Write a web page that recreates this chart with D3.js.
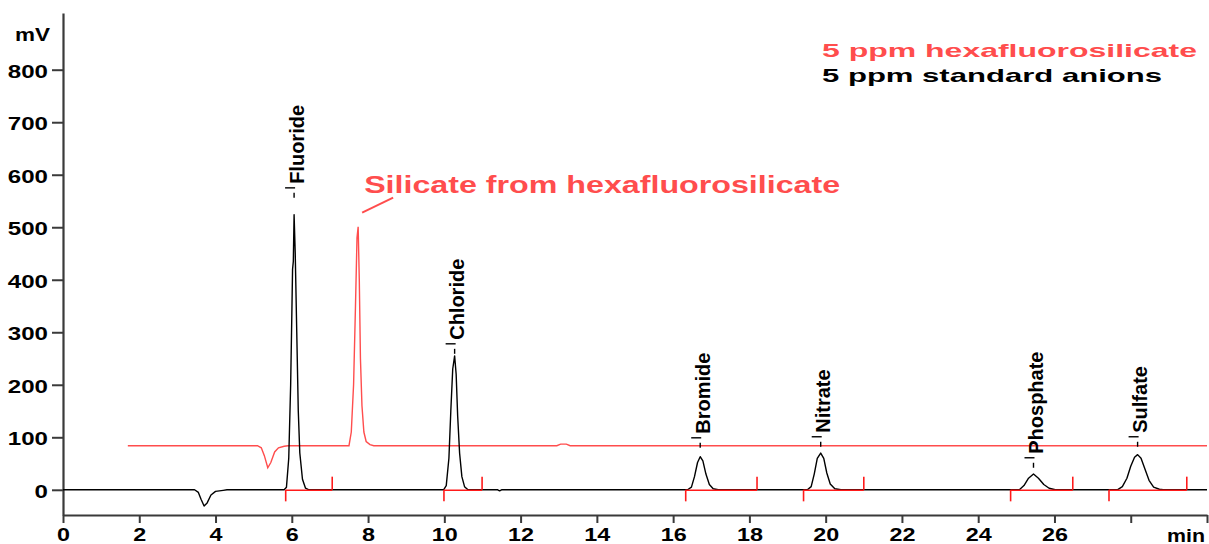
<!DOCTYPE html>
<html><head><meta charset="utf-8">
<script src="https://cdn.jsdelivr.net/npm/d3@7"></script>
<style>body{margin:0;background:#fff}svg{display:block}</style>
</head><body>
<svg id="c" width="1209" height="544"></svg>
<script>
// ---------- data ----------
const xTicks = [0,2,4,6,8,10,12,14,16,18,20,22,24,26,28,30];
const xTickLabels = ["0","2","4","6","8","10","12","14","16","18","20","22","24","26","",""];
const yTicks = [0,100,200,300,400,500,600,700,800];
const yTickLabels = ["0","100","200","300","400","500","600","700","800"];

// black trace: 5 ppm standard anions  [min, mV]
const standardTrace = [
  [0,0],[3.45,0],[3.55,-5],[3.62,-18],[3.70,-31],[3.78,-25],[3.88,-10],[4.0,-3],[4.2,-1],[4.3,0],
  [5.80,0],[5.86,5],[5.92,60],[5.97,200],[6.00,330],[6.02,420],[6.04,435],[6.06,524],[6.09,450],
  [6.13,300],[6.17,150],[6.21,70],[6.28,20],[6.36,3],[6.45,0],
  [9.98,0],[10.05,8],[10.12,60],[10.17,150],[10.22,230],[10.27,255],[10.31,220],[10.35,140],
  [10.40,70],[10.46,25],[10.53,6],[10.62,0],
  [11.40,0],[11.45,-2],[11.50,0],
  [16.38,0],[16.48,5],[16.56,25],[16.64,52],[16.71,63],[16.78,55],[16.86,30],[16.95,10],[17.05,2],[17.18,0],
  [19.52,0],[19.62,6],[19.70,30],[19.78,60],[19.87,70],[19.95,60],[20.03,32],[20.12,11],[20.24,2],[20.40,0],
  [25.08,0],[25.20,8],[25.32,22],[25.45,30],[25.58,22],[25.72,10],[25.86,3],[26.02,0],
  [27.65,0],[27.78,6],[27.90,22],[28.00,45],[28.10,62],[28.18,67],[28.27,60],[28.37,40],[28.48,18],
  [28.60,5],[28.75,1],[28.85,0],[30,0]
];

// red trace: 5 ppm hexafluorosilicate  [min, mV]
const silicateTrace = [
  [1.7,84],[5.10,84],[5.20,80],[5.28,65],[5.37,42],[5.45,52],[5.55,72],[5.65,80],[5.80,83],[5.90,84],
  [7.50,84],[7.56,110],[7.62,200],[7.67,350],[7.71,480],[7.74,501],[7.77,400],[7.80,250],[7.84,160],
  [7.89,110],[7.95,92],[8.05,86],[8.15,84],
  [12.95,84],[13.05,87],[13.20,87],[13.30,84],[30,84]
];

// peak annotations
const peakNames = ["Fluoride","Chloride","Bromide","Nitrate","Phosphate","Sulfate"];
const peakTimes = [6.06,10.27,16.71,19.87,25.45,28.18];
const labelMv   = [575,278,99,101,61,101];

// integration limits (min)
const intStart = [5.84,9.99,16.33,19.42,24.85,27.43];
const intEnd   = [7.06,10.99,18.20,21.00,26.48,29.47];

const legendLabels = ["5 ppm hexafluorosilicate","5 ppm standard anions"];
const silicateNote = "Silicate from hexafluorosilicate";
const silicatePeak = [7.74,501];

// ---------- drawing ----------
const FONT = "'Liberation Sans', Arial, Helvetica, sans-serif";
const RED_TRACE = "#ff4d4d", RED_MARK = "#ff1a1a", AXIS = "#3a3a3a";
const svg = d3.select("#c");
const x = d3.scaleLinear().domain([0,30]).range([63,1207]);
const y = d3.scaleLinear().domain([-48,908]).range([515,13]);

// axes
const yAxis = d3.axisLeft(y).tickValues(yTicks).tickSize(11).tickSizeOuter(0).tickPadding(4)
  .tickFormat((d,i)=>yTickLabels[i]);
const gy = svg.append("g").attr("transform","translate(63,0)").call(yAxis);
gy.select(".domain").attr("stroke",AXIS).attr("stroke-width",2.2);
gy.selectAll(".tick line").attr("stroke",AXIS).attr("stroke-width",2);
gy.selectAll(".tick text").attr("font-family",FONT).attr("font-weight","bold").attr("font-size",18)
  .attr("fill","#000").attr("dy","0.42em")
  .attr("textLength",(d,i)=>yTickLabels[i].length*13.4).attr("lengthAdjust","spacingAndGlyphs");

const xAxis = d3.axisBottom(x).tickValues(xTicks).tickSize(8).tickSizeOuter(0).tickPadding(5)
  .tickFormat((d,i)=>xTickLabels[i]);
const gx = svg.append("g").attr("transform","translate(0,515)").call(xAxis);
gx.select(".domain").attr("stroke",AXIS).attr("stroke-width",2.2);
gx.selectAll(".tick line").attr("stroke",AXIS).attr("stroke-width",2);
gx.selectAll(".tick text").attr("font-family",FONT).attr("font-weight","bold").attr("font-size",19)
  .attr("fill","#000")
  .each(function(d,i){ const s=xTickLabels[i]; if(s){ d3.select(this).attr("textLength",s.length*13).attr("lengthAdjust","spacingAndGlyphs"); } });

svg.append("text").attr("x",15).attr("y",41).attr("font-family",FONT).attr("font-weight","bold")
  .attr("font-size",19).attr("textLength",35).attr("lengthAdjust","spacingAndGlyphs").text("mV");
svg.append("text").attr("x",1205).attr("y",541.5).attr("text-anchor","end").attr("font-family",FONT)
  .attr("font-weight","bold").attr("font-size",19).attr("textLength",38).attr("lengthAdjust","spacingAndGlyphs").text("min");

// traces
const line = d3.line().x(d=>x(d[0])).y(d=>y(d[1]));
svg.append("path").datum(silicateTrace).attr("d",line).attr("fill","none")
  .attr("stroke",RED_TRACE).attr("stroke-width",1.4);
svg.append("path").datum(standardTrace).attr("d",line).attr("fill","none")
  .attr("stroke","#000").attr("stroke-width",1.4).attr("stroke-linejoin","round");

// integration markers
const gi = svg.append("g").attr("stroke",RED_MARK).attr("stroke-width",1.6);
intStart.forEach((s,i)=>{
  const e = intEnd[i];
  gi.append("line").attr("x1",x(s)).attr("x2",x(e)).attr("y1",y(0)+0.5).attr("y2",y(0)+0.5);
  gi.append("line").attr("x1",x(s)).attr("x2",x(s)).attr("y1",y(0)).attr("y2",y(-22));
  gi.append("line").attr("x1",x(e)).attr("x2",x(e)).attr("y1",y(0)).attr("y2",y(25));
});

// peak labels
const gl = svg.append("g");
peakNames.forEach((name,i)=>{
  const px = x(peakTimes[i]), ly = y(labelMv[i]);
  gl.append("line").attr("x1",px-9).attr("x2",px+1).attr("y1",ly).attr("y2",ly)
    .attr("stroke","#000").attr("stroke-width",1.4);
  gl.append("line").attr("x1",px).attr("x2",px).attr("y1",ly+5).attr("y2",ly+10)
    .attr("stroke","#000").attr("stroke-width",1.4);
  gl.append("text").attr("transform",`translate(${px+9.5},${ly-4}) rotate(-90)`)
    .attr("font-family",FONT).attr("font-weight","bold").attr("font-size",20).attr("fill","#000")
    .text(name);
});

// silicate annotation
const sx = x(silicatePeak[0]), sy = y(silicatePeak[1]);
svg.append("line").attr("x1",sx+4).attr("y1",sy-14).attr("x2",sx+35).attr("y2",sy-29)
  .attr("stroke",RED_TRACE).attr("stroke-width",2);
svg.append("text").attr("x",sx+6).attr("y",sy-34).attr("font-family",FONT).attr("font-weight","bold")
  .attr("font-size",23).attr("fill",RED_TRACE).attr("textLength",476).attr("lengthAdjust","spacingAndGlyphs")
  .text(silicateNote);

// legend
svg.append("text").attr("x",822).attr("y",56.7).attr("font-family",FONT).attr("font-weight","bold")
  .attr("font-size",19).attr("fill",RED_TRACE).attr("textLength",375).attr("lengthAdjust","spacingAndGlyphs")
  .text(legendLabels[0]);
svg.append("text").attr("x",822).attr("y",81.7).attr("font-family",FONT).attr("font-weight","bold")
  .attr("font-size",19).attr("fill","#000").attr("textLength",340).attr("lengthAdjust","spacingAndGlyphs")
  .text(legendLabels[1]);
</script>
</body></html>
